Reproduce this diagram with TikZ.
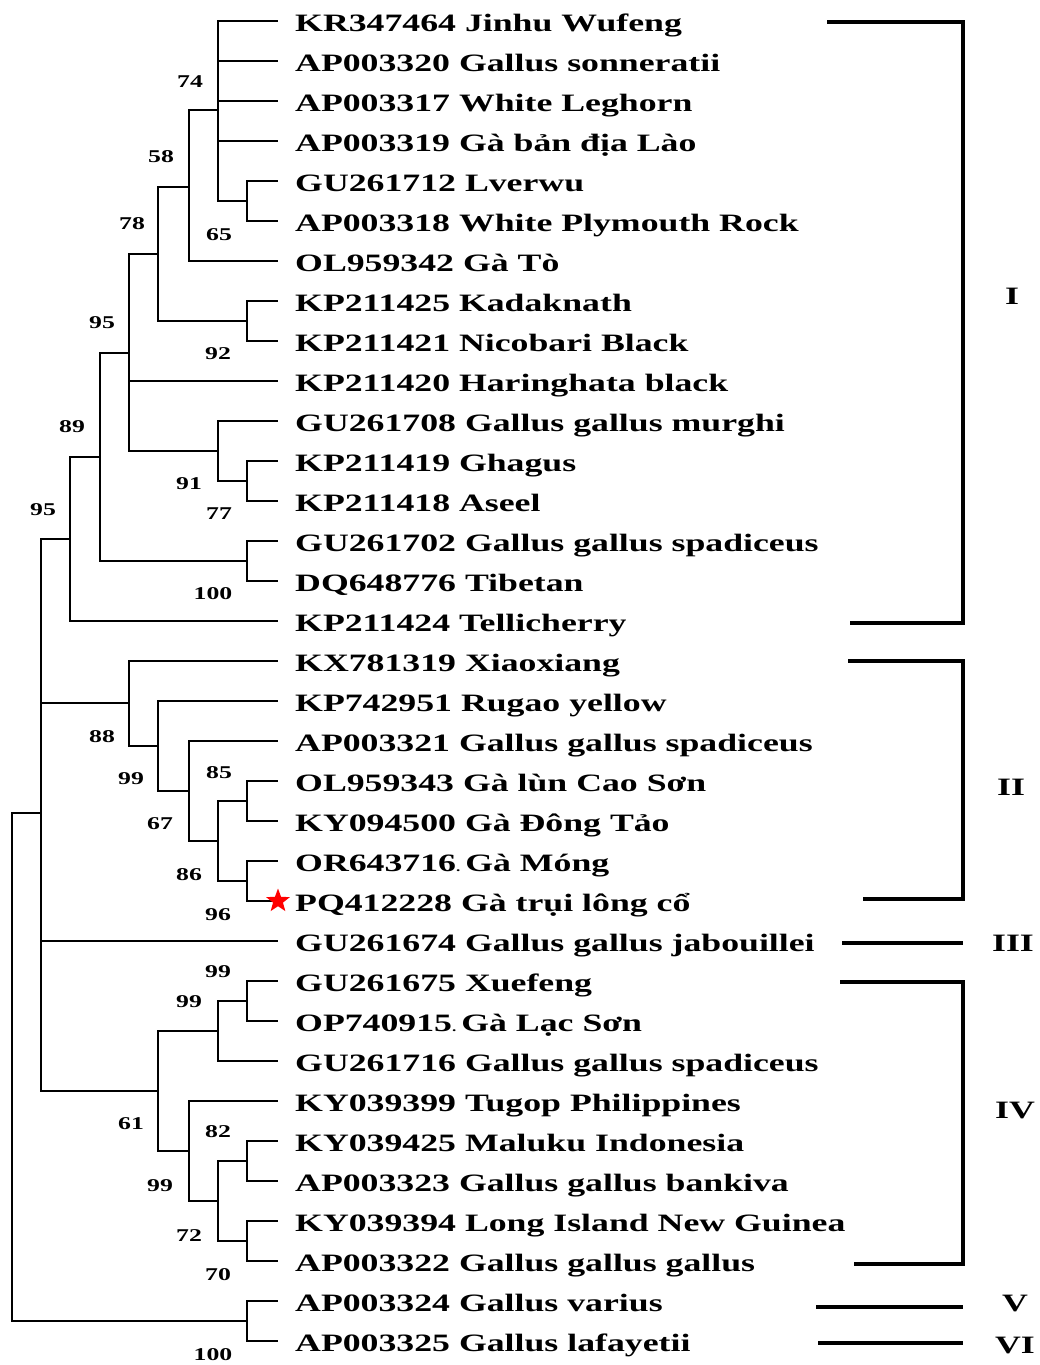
\documentclass[tikz,border=0pt]{standalone}
\usepackage{fontspec}
\setmainfont[FakeStretch=1.43]{Liberation Serif}
\usetikzlibrary{shapes.geometric}
\begin{document}
\begin{tikzpicture}[x=1pt,y=-1pt,
  br/.style={line width=2.7pt, line join=miter},
  bk/.style={line width=3.5pt, line join=miter},
  lab/.style={anchor=base west, inner sep=0pt, font=\fontsize{25}{30}\selectfont\bfseries},
  bs/.style={inner sep=0pt, font=\fontsize{18}{20}\selectfont\bfseries},
  rn/.style={inner sep=0pt, font=\fontsize{25}{30}\selectfont\bfseries}]
\useasboundingbox (0,0) rectangle (1040,1365);
% leaves
\foreach \i/\t in {
 1/{KR347464 Jinhu Wufeng},
 2/{AP003320 Gallus sonneratii},
 3/{AP003317 White Leghorn},
 4/{AP003319 Gà bản địa Lào},
 5/{GU261712 Lverwu},
 6/{AP003318 White Plymouth Rock},
 7/{OL959342 Gà Tò},
 8/{KP211425 Kadaknath},
 9/{KP211421 Nicobari Black},
 10/{KP211420 Haringhata black},
 11/{GU261708 Gallus gallus murghi},
 12/{KP211419 Ghagus},
 13/{KP211418 Aseel},
 14/{GU261702 Gallus gallus spadiceus},
 15/{DQ648776 Tibetan},
 16/{KP211424 Tellicherry},
 17/{KX781319 Xiaoxiang},
 18/{KP742951 Rugao yellow},
 19/{AP003321 Gallus gallus spadiceus},
 20/{OL959343 Gà lùn Cao Sơn},
 21/{KY094500 Gà Đông Tảo},
 22/{OR643716{\fontsize{12}{12}\selectfont.}\hspace{5pt}Gà Móng},
 23/{PQ412228 Gà trụi lông cổ},
 24/{GU261674 Gallus gallus jabouillei},
 25/{GU261675 Xuefeng},
 26/{OP740915{\fontsize{12}{12}\selectfont.}\hspace{5pt}Gà Lạc Sơn},
 27/{GU261716 Gallus gallus spadiceus},
 28/{KY039399 Tugop Philippines},
 29/{KY039425 Maluku Indonesia},
 30/{AP003323 Gallus gallus bankiva},
 31/{KY039394 Long Island New Guinea},
 32/{AP003322 Gallus gallus gallus},
 33/{AP003324 Gallus varius},
 34/{AP003325 Gallus lafayetii}}{
  \coordinate (t\i) at (278,{21+40*(\i-1)});
  \node[lab] (n\i) at (295,{31+40*(\i-1)}) {\t};
}
% internal nodes
\coordinate (nA) at (218,110);
\coordinate (nB) at (247,201);
\coordinate (nC) at (189,187);
\coordinate (nD) at (158,254);
\coordinate (nE) at (247,321);
\coordinate (nF) at (129,353);
\coordinate (nG) at (218,451);
\coordinate (nI) at (247,481);
\coordinate (nH) at (100,457);
\coordinate (nJ) at (247,561);
\coordinate (nK) at (70,539);
\coordinate (nL) at (41,813);
\coordinate (nM) at (129,703);
\coordinate (nN) at (158,746);
\coordinate (nO) at (189,791);
\coordinate (nP) at (218,841);
\coordinate (nQ) at (247,801);
\coordinate (nS) at (247,881);
\coordinate (nT) at (158,1091);
\coordinate (nU) at (218,1031);
\coordinate (nV) at (247,1001);
\coordinate (nW) at (189,1151);
\coordinate (nX) at (218,1201);
\coordinate (nY) at (247,1161);
\coordinate (nZ) at (247,1241);
\coordinate (nAA) at (247,1321);
\coordinate (nR) at (12,1067);
\foreach \p/\c in {nA/t1,nA/t2,nA/t3,nA/t4,nA/nB,nB/t5,nB/t6,nC/nA,nC/t7,
  nD/nC,nD/nE,nE/t8,nE/t9,nF/nD,nF/t10,nF/nG,nG/t11,nG/nI,nI/t12,nI/t13,
  nH/nF,nH/nJ,nJ/t14,nJ/t15,nK/nH,nK/t16,nL/nK,nL/nM,nL/t24,nL/nT,
  nM/t17,nM/nN,nN/t18,nN/nO,nO/t19,nO/nP,nP/nQ,nP/nS,nQ/t20,nQ/t21,
  nS/t22,nS/t23,nT/nU,nT/nW,nU/nV,nU/t27,nV/t25,nV/t26,nW/t28,nW/nX,
  nX/nY,nX/nZ,nY/t29,nY/t30,nZ/t31,nZ/t32,nR/nL,nR/nAA,nAA/t33,nAA/t34}{
  \draw[br] (\p) |- (\c);
}
\node[star, star points=5, star point ratio=2.4, fill=red, draw=none,
  minimum size=25pt, inner sep=0pt] (star) at (t23) {};
% bootstrap values
\foreach \k/\x/\y/\v in {1/190/82/74,2/161/157/58,3/132/224/78,4/219/235/65,
  5/102/323/95,6/218/354/92,7/72/427/89,8/189/484/91,9/219/514/77,10/43/510/95,
  11/213/594/100,12/102/737/88,13/131/779/99,14/219/773/85,15/160/824/67,
  16/189/875/86,17/218/915/96,18/218/972/99,19/189/1002/99,20/131/1124/61,
  21/218/1132/82,22/160/1186/99,23/189/1236/72,24/218/1275/70,25/213/1355/100}{
  \node[bs] (bs\k) at (\x,\y) {\v};
}
% clade brackets
\coordinate (I1) at (827,22);  \coordinate (I2) at (963,22);
\coordinate (I3) at (963,623); \coordinate (I4) at (850,623);
\draw[bk] (I1) -- (I2) -- (I3) -- (I4);
\coordinate (II1) at (848,661); \coordinate (II2) at (963,661);
\coordinate (II3) at (963,899); \coordinate (II4) at (863,899);
\draw[bk] (II1) -- (II2) -- (II3) -- (II4);
\coordinate (III1) at (842,943); \coordinate (III2) at (963,943);
\draw[bk] (III1) -- (III2);
\coordinate (IV1) at (840,982); \coordinate (IV2) at (963,982);
\coordinate (IV3) at (963,1264); \coordinate (IV4) at (854,1264);
\draw[bk] (IV1) -- (IV2) -- (IV3) -- (IV4);
\coordinate (V1) at (816,1307); \coordinate (V2) at (963,1307);
\draw[bk] (V1) -- (V2);
\coordinate (VI1) at (818,1343); \coordinate (VI2) at (963,1343);
\draw[bk] (VI1) -- (VI2);
\node[rn] (cI) at (1012,296) {I};
\node[rn] (cII) at (1011,787) {II};
\node[rn] (cIII) at (1013,943) {III};
\node[rn] (cIV) at (1015,1110) {IV};
\node[rn] (cV) at (1015,1303) {V};
\node[rn] (cVI) at (1015,1345) {VI};
\end{tikzpicture}
\end{document}
